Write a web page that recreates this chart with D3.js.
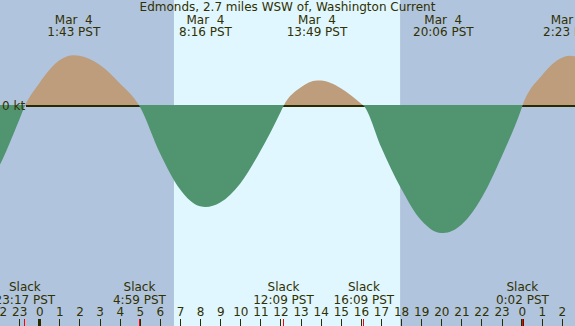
<!DOCTYPE html>
<html>
<head>
<meta charset="utf-8">
<script src="https://cdn.jsdelivr.net/npm/d3@7"></script>
<style>
  html, body { margin: 0; padding: 0; background: #fff; }
  svg { display: block; }
  text { font-family: "DejaVu Sans", sans-serif; font-size: 12px; fill: #303000; white-space: pre; }
</style>
</head>
<body>
<svg id="chart"></svg>
<script>
// hours are counted from Mar 4 00:00 PST
const title = 'Edmonds, 2.7 miles WSW of, Washington Current';

const curveHours = [-3, -2, -1, -0.717, 0, 1, 1.717, 2, 3, 4, 4.983, 6, 7, 8, 8.267, 9, 10, 11, 12, 12.15,
  13, 13.817, 14, 15, 16, 16.15, 17, 18, 19, 20, 20.1, 21, 22, 23, 24, 24.033, 25, 26, 26.383, 27];
const curveKnots = [-1.44, -0.95, -0.22, 0, 0.36, 0.72, 0.80, 0.79, 0.65, 0.36, 0, -0.74, -1.31, -1.58, -1.59, -1.52, -1.22, -0.71, -0.10, 0,
  0.29, 0.40, 0.40, 0.28, 0.04, 0, -0.64, -1.30, -1.80, -2.00, -2.00, -1.87, -1.45, -0.80, -0.03, 0, 0.48, 0.76, 0.79, 0.76];

const maxHours = [1.717, 8.267, 13.817, 20.1, 26.383];
const maxDates = ['Mar  4', 'Mar  4', 'Mar  4', 'Mar  4', 'Mar  5'];
const maxTimes = ['1:43 PST', '8:16 PST', '13:49 PST', '20:06 PST', '2:23 PST'];

const slackHours = [-0.717, 4.983, 12.15, 16.15, 24.033];
const slackTimes = ['23:17 PST', '4:59 PST', '12:09 PST', '16:09 PST', '0:02 PST'];

const sunrise = 6.70;
const sunset = 17.95;
const hourTicks = d3.range(-2, 27);

const width = 575;
const height = 326;

const svg = d3.select('#chart')
  .attr('width', width)
  .attr('height', height);

const x = d3.scaleLinear()
  .domain([-1.955, 26.652])
  .range([0, width]);

const y = d3.scaleLinear()
  .domain([0, -2])
  .range([106, 233]);

// night / day
svg.append('rect')
  .attr('width', width)
  .attr('height', height)
  .attr('fill', '#b0c4de');

svg.append('rect')
  .attr('x', x(sunrise))
  .attr('width', x(sunset) - x(sunrise))
  .attr('height', height)
  .attr('fill', '#e0f7ff');

const data = curveHours.map((h, i) => ({ h: h, v: curveKnots[i] }));

// one area, clipped above and below the zero line
const defs = svg.append('defs');
defs.append('clipPath').attr('id', 'above')
  .append('rect').attr('width', width).attr('height', y(0));
defs.append('clipPath').attr('id', 'below')
  .append('rect').attr('y', y(0) - 1).attr('width', width).attr('height', height);

const area = d3.area()
  .x((d) => x(d.h))
  .y0(y(0))
  .y1((d) => y(d.v))
  .curve(d3.curveMonotoneX);

svg.append('path')
  .attr('d', area(data))
  .attr('clip-path', 'url(#above)')
  .attr('fill', '#bd9d7c');

// zero line
svg.append('line')
  .attr('x1', 26)
  .attr('x2', width)
  .attr('y1', y(0))
  .attr('y2', y(0))
  .attr('stroke', '#2a2a00')
  .attr('stroke-width', 2);

svg.append('path')
  .attr('d', area.y0(y(0) - 1)(data))
  .attr('clip-path', 'url(#below)')
  .attr('fill', '#509570');

svg.append('text')
  .attr('x', 2)
  .attr('y', y(0) + 4)
  .text('0 kt');

svg.append('text')
  .attr('x', width / 2)
  .attr('y', 11)
  .attr('text-anchor', 'middle')
  .text(title);

// max labels on top
const tops = svg.selectAll('g.max')
  .data(maxHours)
  .enter()
  .append('g')
  .attr('class', 'max')
  .attr('transform', (d) => `translate(${x(d)},0)`);

tops.append('text')
  .attr('y', 24)
  .attr('text-anchor', 'middle')
  .text((d, i) => maxDates[i]);

tops.append('text')
  .attr('y', 36)
  .attr('text-anchor', 'middle')
  .text((d, i) => maxTimes[i]);

// slack labels at the bottom
const slacks = svg.selectAll('g.slack')
  .data(slackHours)
  .enter()
  .append('g')
  .attr('class', 'slack')
  .attr('transform', (d) => `translate(${x(d)},0)`);

slacks.append('text')
  .attr('y', 291)
  .attr('text-anchor', 'middle')
  .text('Slack');

slacks.append('text')
  .attr('y', 304)
  .attr('text-anchor', 'middle')
  .text((d, i) => slackTimes[i]);

// hour axis
const axis = svg.append('g')
  .attr('transform', `translate(0,${height})`)
  .call(d3.axisTop(x)
    .tickValues(hourTicks)
    .tickSize(7)
    .tickPadding(3)
    .tickFormat((d) => ((d % 24) + 24) % 24));

axis.select('.domain').remove();
axis.selectAll('text')
  .attr('font-family', null)
  .attr('font-size', null)
  .attr('fill', null);
axis.selectAll('line')
  .attr('stroke', '#2a2a00')
  .attr('stroke-width', (d) => (d % 24 === 0 ? 3 : 1))
  .attr('shape-rendering', 'crispEdges');

svg.selectAll('line.slackTick')
  .data(slackHours)
  .enter()
  .append('line')
  .attr('class', 'slackTick')
  .attr('x1', (d) => x(d))
  .attr('x2', (d) => x(d))
  .attr('y1', height - 7)
  .attr('y2', height)
  .attr('stroke', 'red')
  .attr('shape-rendering', 'crispEdges');
</script>
</body>
</html>
